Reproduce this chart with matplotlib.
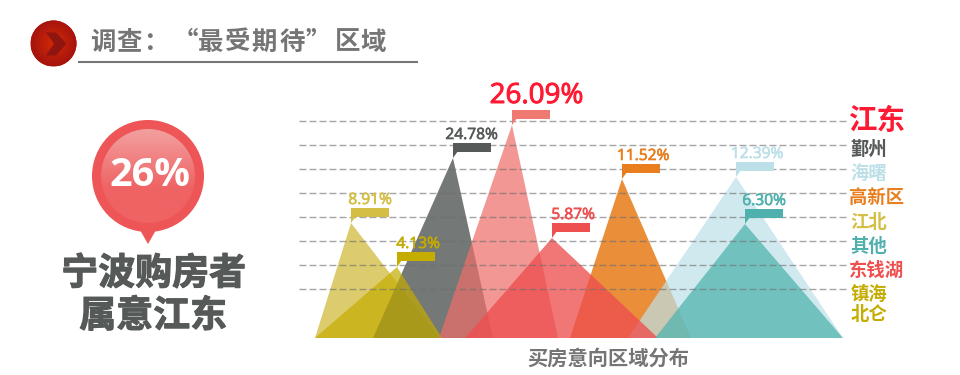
import numpy as np
import matplotlib
matplotlib.use("Agg")
import matplotlib.pyplot as plt
from matplotlib.patches import Circle, Polygon, Rectangle
import matplotlib.patheffects as pe

plt.rcParams['font.family'] = ['Noto Sans CJK SC', 'DejaVu Sans']

# ---- data ----
categories = ['江北', '镇海北仑', '鄞州', '江东', '高新区', '海曙', '东钱湖', '其他']
values = [8.91, 4.13, 24.78, 26.09, 11.52, 12.39, 5.87, 6.30]
# apparent peak height above the baseline and footprint of each triangle (picture units)
peak_height = [115, 71, 180, 213, 159, 161, 100, 114]
peak_x = [351, 397, 453, 512, 622, 736, 552, 745]
foot_left = [315, 315, 373, 439, 570, 628, 465, 655]
foot_right = [440, 442, 493, 558, 691, 843, 658, 843]
legend_names = ['江东', '鄞州', '海曙', '高新区', '江北', '其他', '东钱湖', '镇海', '北仑']
title_chars = list('调查：“最受期待”区域')

# ---- styles and layout ----
W, H = 960, 375
BASE = 338
fill = ['#D4BE44', '#C4AC00', '#555A58', '#EE6F6A', '#E87E1E', '#BDE0E8', '#EE4F50', '#52B5B0']
alpha = [0.78, 0.70, 0.82, 0.72, 0.88, 0.70, 0.78, 0.75]
zorder = [2.0, 2.2, 2.1, 2.3, 2.4, 2.5, 2.6, 2.7]
flagc = ['#D4BE44', '#C4AC00', '#555A58', '#EE7A72', '#E87E1E', '#BDE0E8', '#EE5050', '#4FB0AE']
txtc = ['#D4BE44', '#C4AC00', '#555A58', '#FF1A33', '#E87E1E', '#BDE0E8', '#EE5050', '#4FB0AE']
label_x = [370, 418, 471.5, 536.5, 643, 757, 573, 764]
grid_y = [121, 145, 169, 193, 217, 241, 265, 289]
legend_y = [121, 149, 173, 197, 222, 246.5, 270, 294, 314]
legend_x = [848.5, 850.5, 850.5, 848.5, 850.5, 850.5, 848.5, 850.5, 850.5]
legend_c = ['#FF1A33', '#555A58', '#BDE0E8', '#E87E1E', '#D4BE44', '#4FB0AE', '#EE5050', '#C4AC00', '#C4AC00']
legend_fs = [20.5, 13.2, 13.2, 13.2, 13.2, 13.2, 13.2, 13.2, 13.2]
title_x = [103, 129, 156, 185, 211, 238, 264, 292, 318, 348, 373]
GRAY = '#757575'
DARK = '#555A58'
CJK = ['Noto Sans CJK SC', 'DejaVu Sans']
NUM = ['Open Sans', 'DejaVu Sans']

fig = plt.figure(figsize=(W / 100, H / 100), dpi=100, facecolor='white')
page = fig.add_axes([0, 0, 1, 1])
page.set_xlim(0, W)
page.set_ylim(H, 0)
page.axis('off')


def gradient_disc(cx, cy, r, top, bottom, z):
    t = np.linspace(0, 1, 128).reshape(-1, 1)
    c0, c1 = np.array(matplotlib.colors.to_rgb(top)), np.array(matplotlib.colors.to_rgb(bottom))
    t = np.clip(t * 1.6, 0, 1)
    img = (c0 * (1 - t) + c1 * t).reshape(-1, 1, 3)
    im = page.imshow(img, extent=(cx - r, cx + r, cy + r, cy - r), zorder=z, aspect='auto')
    im.set_clip_path(Circle((cx, cy), r, transform=page.transData))


# header icon
page.add_patch(Circle((53.5, 43.5), 23, fc='#B51A0C', ec='none', zorder=1))
xx, yy = np.meshgrid(np.linspace(-1, 1, 96), np.linspace(-1, 1, 96))
d = np.clip(np.hypot(xx, yy), 0, 1)[..., None]
icon = np.array(matplotlib.colors.to_rgb('#D42A06')) * (1 - d) + np.array(matplotlib.colors.to_rgb('#A5140E')) * d
im = page.imshow(icon, extent=(30.5, 76.5, 66.5, 20.5), zorder=1.5, aspect='auto')
im.set_clip_path(Circle((53.5, 43.5), 23, transform=page.transData))
page.add_patch(Polygon([(46, 32.5), (56, 32.5), (66.5, 43.5), (56, 55.5), (46, 55.5), (54, 43.5)],
                       fc='#8E1510', ec='none', zorder=2))
for ch, x in zip(title_chars, title_x):
    page.text(x, 42, ch, fontsize=18.3, fontweight='bold', color=GRAY, family=CJK, va='center', ha='center')
page.plot([78, 417.5], [62, 62], color=GRAY, lw=1.5, solid_capstyle='butt')

# big bubble
page.add_patch(Circle((148, 176), 56, fc='#EE5556', ec='none', zorder=1))
page.add_patch(Polygon([(140, 230), (156, 230), (148, 244)], fc='#EE5556', ec='none', zorder=1))
gradient_disc(148, 176, 47, '#F3A0A0', '#EF6364', 2)
page.text(149.5, 175, '26%', fontsize=28.5, fontweight='bold', color='white', family=NUM,
          ha='center', va='center', zorder=3)
page.text(153.5, 274, '宁波购房者', fontsize=26.6, fontweight='bold', color=DARK, family=CJK,
          ha='center', va='center', path_effects=[pe.withStroke(linewidth=0.8, foreground=DARK)])
page.text(153, 316.5, '属意江东', fontsize=26.6, fontweight='bold', color=DARK, family=CJK,
          ha='center', va='center', path_effects=[pe.withStroke(linewidth=0.8, foreground=DARK)])

# chart axes: x in picture units, y as height above the baseline
chart = fig.add_axes([0, (H - BASE) / H, 1, BASE / H])
chart.set_xlim(0, W)
chart.set_ylim(0, BASE)
chart.axis('off')
chart.patch.set_alpha(0)

for i in range(len(values)):
    chart.fill([foot_left[i], peak_x[i], foot_right[i]], [0, peak_height[i], 0],
               color=fill[i], alpha=alpha[i], lw=0, zorder=zorder[i])

for gy in grid_y:
    chart.plot([299, 848], [BASE - gy] * 2, color='#6E6E6E', lw=1.0, alpha=0.62,
               dashes=(5, 2.2), zorder=4)

for i, (name, v) in enumerate(zip(categories, values)):
    px, ph = peak_x[i], peak_height[i]
    fy = ph + 6
    chart.add_patch(Rectangle((px, fy), 38, 9, fc=flagc[i], ec='none', zorder=5))
    chart.add_patch(Polygon([(px, fy + 1), (px + 5, fy + 1), (px, ph)], fc=flagc[i], ec='none', zorder=5))
    big = name == '江东'
    chart.text(label_x[i], fy + 9, f'{v:.2f}%',
               fontsize=20 if big else 11.2, color=txtc[i], family=NUM, ha='center', va='bottom', zorder=6,
               path_effects=[pe.withStroke(linewidth=0.7 if big else 0.45, foreground=txtc[i])])

for name, x, y, c, fs in zip(legend_names, legend_x, legend_y, legend_c, legend_fs):
    page.text(x, y, name, fontsize=fs, fontweight='bold', color=c, family=CJK, ha='left', va='center')

page.text(608, 358, '买房意向区域分布', fontsize=14.6, fontweight='bold', color=GRAY, family=CJK,
          ha='center', va='center')

fig.savefig('out.png', dpi=100, facecolor='white')
